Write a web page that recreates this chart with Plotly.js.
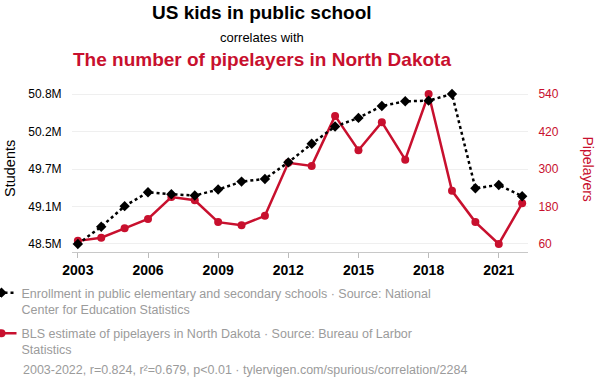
<!DOCTYPE html>
<html>
<head>
<meta charset="utf-8">
<script src="https://cdn.plot.ly/plotly-3.0.1.min.js"></script>
<style>html,body{margin:0;padding:0;background:#fff;}#chart{width:600px;height:392px;}</style>
</head>
<body>
<div id="chart"></div>
<script>
// ---- data ----
const years = [2003, 2004, 2005, 2006, 2007, 2008, 2009, 2010, 2011, 2012, 2013, 2014, 2015, 2016, 2017, 2018, 2019, 2020, 2021, 2022];
const studentsM = [48.54, 48.80, 49.11, 49.32, 49.29, 49.27, 49.36, 49.48, 49.52, 49.77, 50.05, 50.31, 50.44, 50.62, 50.69, 50.70, 50.80, 49.38, 49.43, 49.26];
const pipelayers = [70, 80, 110, 140, 210, 200, 130, 120, 150, 320, 310, 470, 360, 450, 330, 540, 230, 130, 60, 190];
const xTickYears = [2003, 2006, 2009, 2012, 2015, 2018, 2021];
const seriesNames = [
  "Enrollment in public elementary and secondary schools · Source: National<br>Center for Education Statistics",
  "BLS estimate of pipelayers in North Dakota · Source: Bureau of Larbor<br>Statistics"
];
const titleLine1 = "US kids in public school";
const titleLine2 = "correlates with";
const titleLine3 = "The number of pipelayers in North Dakota";
const footer = "2003-2022, r=0.824, r²=0.679, p<0.01 · tylervigen.com/spurious/correlation/2284";

// ---- styling ----
const RED = "rgb(200,16,46)";
const GRAY = "rgb(155,155,155)";
const FONT = "Liberation Sans, Arial, sans-serif";
const PAD = 0.0534;

function paddedRange(arr) {
  const mn = Math.min(...arr), mx = Math.max(...arr), s = mx - mn;
  return [mn - PAD * s, mx + PAD * s];
}
function evenTicks(arr, n) {
  const mn = Math.min(...arr), mx = Math.max(...arr), out = [];
  for (let i = 0; i < n; i++) out.push(mn + (mx - mn) * i / (n - 1));
  return out;
}
const sTicks = evenTicks(studentsM, 5);
const sTickText = sTicks.map(v => v.toFixed(1) + "M");
const pTicks = evenTicks(pipelayers, 5);

const traces = [
  {
    x: years, y: studentsM, yaxis: "y2", name: seriesNames[0], legendgroup: "a",
    mode: "lines+markers",
    line: {color: "#000", width: 2.5, dash: "dot"},
    marker: {color: "#000", symbol: "diamond", size: 8},
    hoverinfo: "skip"
  },
  {
    x: years, y: pipelayers, yaxis: "y", name: seriesNames[1], legendgroup: "b",
    mode: "lines+markers",
    line: {color: RED, width: 2.5},
    marker: {color: RED, symbol: "circle", size: 8},
    hoverinfo: "skip"
  }
];

const L = 72, R = 72, T = 86, B = 140;
const plotW = 600 - L - R, plotH = 392 - T - B;
const px = x => (x - L) / plotW;
const py = y => (392 - B - y) / plotH;

const layout = {
  width: 600, height: 392,
  margin: {l: L, r: R, t: T, b: B, pad: 0, autoexpand: false},
  paper_bgcolor: "#fff", plot_bgcolor: "#fff",
  font: {family: FONT, color: "#000", size: 12},
  showlegend: true,
  legend: {
    x: px(-18.5), xanchor: "left", y: py(278), yanchor: "top",
    orientation: "v", valign: "top", tracegroupgap: 5,
    font: {family: FONT, size: 12.5, color: GRAY},
    bgcolor: "rgba(0,0,0,0)", borderwidth: 0, traceorder: "grouped"
  },
  xaxis: {
    range: [2002.75, 2022.25],
    tickvals: xTickYears, ticktext: xTickYears.map(String),
    tickfont: {family: FONT, size: 14, weight: "bold", color: "#000"},
    showgrid: false, zeroline: false,
    showline: true, linecolor: "#c8c8c8", linewidth: 1,
    ticks: "outside", ticklen: 5, tickcolor: "#bbb", tickwidth: 1,
    automargin: false
  },
  yaxis: {
    side: "right",
    range: paddedRange(pipelayers),
    tickvals: pTicks, ticktext: pTicks.map(v => String(Math.round(v))),
    tickfont: {family: FONT, size: 12, color: RED},
    showgrid: true, gridcolor: "#efefef", gridwidth: 1,
    zeroline: false, showline: false,
    ticks: "outside", ticklen: 7, tickcolor: "rgba(0,0,0,0)",
    automargin: false
  },
  yaxis2: {
    overlaying: "y", side: "left",
    range: paddedRange(studentsM),
    tickvals: sTicks, ticktext: sTickText,
    tickfont: {family: FONT, size: 12, color: "#000"},
    showgrid: false, zeroline: false, showline: false,
    ticks: "outside", ticklen: 7, tickcolor: "rgba(0,0,0,0)",
    automargin: false
  },
  annotations: [
    {text: titleLine1, xref: "paper", yref: "paper", x: px(262), y: py(12), xanchor: "center", yanchor: "middle",
     showarrow: false, font: {family: FONT, size: 19, weight: "bold", color: "#000"}},
    {text: titleLine2, xref: "paper", yref: "paper", x: px(262), y: py(37), xanchor: "center", yanchor: "middle",
     showarrow: false, font: {family: FONT, size: 13, color: "#000"}},
    {text: titleLine3, xref: "paper", yref: "paper", x: px(262), y: py(59), xanchor: "center", yanchor: "middle",
     showarrow: false, font: {family: FONT, size: 19, weight: "bold", color: RED}},
    {text: "Students", xref: "paper", yref: "paper", x: px(10), y: py(169), xanchor: "center", yanchor: "middle",
     textangle: -90, showarrow: false, font: {family: FONT, size: 14.5, color: "#000"}},
    {text: "Pipelayers", xref: "paper", yref: "paper", x: px(587.5), y: py(169), xanchor: "center", yanchor: "middle",
     textangle: 90, showarrow: false, font: {family: FONT, size: 14, color: RED}},
    {text: footer, xref: "paper", yref: "paper", x: px(20.7), y: py(370), xanchor: "left", yanchor: "middle",
     showarrow: false, font: {family: FONT, size: 12.5, color: GRAY}}
  ]
};

Plotly.newPlot("chart", traces, layout, {displayModeBar: false, staticPlot: true});
</script>
</body>
</html>
